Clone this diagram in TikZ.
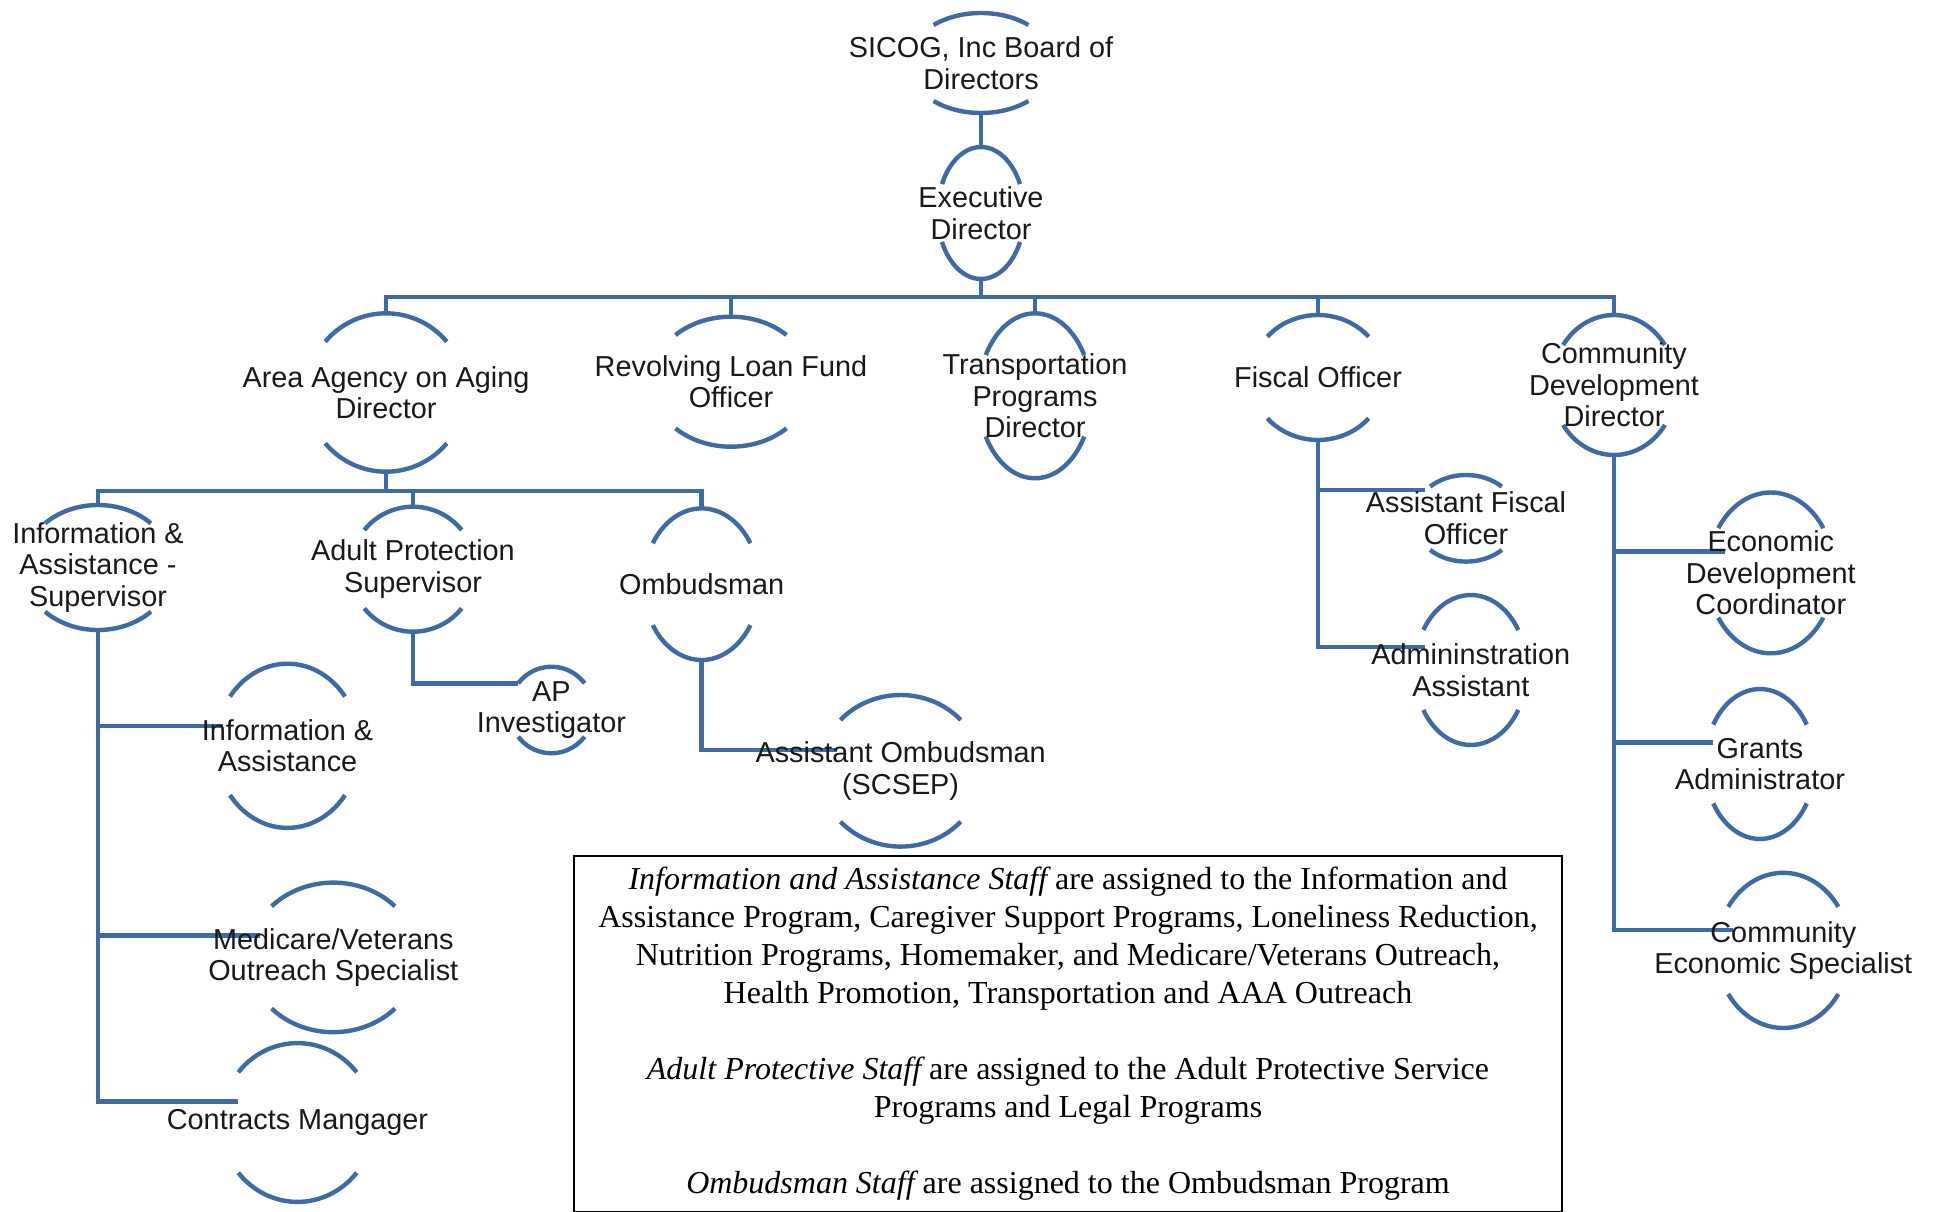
\documentclass[tikz,border=0pt]{standalone}
\usepackage{fontspec}
\setmainfont{Liberation Serif}
\newfontfamily\chartfont{Liberation Sans}
\usepackage{tikz}
\usetikzlibrary{calc, backgrounds}
\definecolor{orgblue}{RGB}{62,106,165}

% two arcs of an oval round a title: name, x radius, y radius, angle
\newcommand{\ovals}[4]{%
\draw[orgline] ([shift={(#4:#2 and #3)}]#1.center) arc[start angle=#4, end angle=180-#4, x radius=#2, y radius=#3];
\draw[orgline] ([shift={(180+#4:#2 and #3)}]#1.center) arc[start angle=180+#4, end angle=360-#4, x radius=#2, y radius=#3];
\coordinate (#1-t) at ([shift={(0,-#3)}]#1.center);
\coordinate (#1-b) at ([shift={(0,#3)}]#1.center);
}

\begin{document}
\begin{tikzpicture}[x=0.01cm,y=-0.01cm,
role/.style={font={\chartfont\fontsize{8.2}{8.96}\selectfont}, align=center, text=black!90, inner sep=0pt},
orgline/.style={draw=orgblue, line width=1.25pt},
notebox/.style={draw=black, line width=0.6pt, minimum width=9.88cm, minimum height=3.54cm, align=center, font={\fontsize{9.1}{10.8}\selectfont}}]
\useasboundingbox (0,0) rectangle (1938,1212);
% titles
\node[role] (sicog) at (981,63) {SICOG, Inc Board of\\Directors};
\node[role] (exec) at (981,213) {Executive\\Director};
\node[role] (aaa) at (386,392.5) {Area Agency on Aging\\Director};
\node[role] (rlf) at (731,381.7) {Revolving Loan Fund\\Officer};
\node[role] (tpd) at (1035,395.8) {Transportation\\Programs\\Director};
\node[role] (fo) at (1318,377.5) {Fiscal Officer};
\node[role] (cdd) at (1614,385) {Community\\Development\\Director};
\node[role] (ias) at (98,567.5) {Information \&\\Assistance -\\Supervisor};
\node[role] (aps) at (413,569.2) {Adult Protection\\Supervisor};
\node[role] (omb) at (701.6,584.2) {Ombudsman};
\node[role] (ia) at (287.5,745.8) {Information \&\\Assistance};
\node[role] (mvo) at (333.3,957.4) {Medicare/Veterans\\Outreach Specialist};
\node[role] (cm) at (297.5,1122.5) {Contracts Mangager};
\node[role] (apinv) at (551.4,710) {AP\\Investigator};
\node[role] (aomb) at (900.6,770.8) {Assistant Ombudsman\\(SCSEP)};
\node[role] (afo) at (1466,518.3) {Assistant Fiscal\\Officer};
\node[role] (aa) at (1470.8,670) {Admininstration\\Assistant};
\node[role] (edc) at (1770.8,572.9) {Economic\\Development\\Coordinator};
\node[role] (ga) at (1760,764) {Grants\\Administrator};
\node[role] (ces) at (1783.3,950.4) {Community\\Economic Specialist};
% note
\node[notebox] (note) at (1068,1034) {{\itshape Information and Assistance Staff} are assigned to the Information and\\
Assistance Program, Caregiver Support Programs, Loneliness Reduction,\\
Nutrition Programs, Homemaker, and Medicare/Veterans Outreach,\\
Health Promotion, Transportation and AAA Outreach\\[10.8pt]
{\itshape Adult Protective Staff} are assigned to the Adult Protective Service\\
Programs and Legal Programs\\[10.8pt]
{\itshape Ombudsman Staff} are assigned to the Ombudsman Program};
\begin{pgfonlayer}{background}
\ovals{sicog}{73}{50}{49.5}
\ovals{exec}{43.4}{66}{26}
\ovals{aaa}{79.2}{79.2}{39.9}
\ovals{rlf}{79.8}{65}{45.9}
\ovals{tpd}{56.6}{82.5}{29.6}
\ovals{fo}{67}{62.5}{40.8}
\ovals{cdd}{62}{70}{34.8}
\ovals{ias}{74.8}{62.5}{45}
\ovals{aps}{62.5}{62.5}{38.8}
\ovals{omb}{58}{75.8}{32.7}
\ovals{ia}{71.9}{82.1}{36.9}
\ovals{mvo}{84.5}{74.8}{43.1}
\ovals{cm}{76.4}{79.4}{39.2}
\ovals{apinv}{42.2}{43.3}{38.1}
\ovals{aomb}{81.1}{75.8}{42.1}
\ovals{afo}{52.6}{43.3}{47}
\ovals{aa}{56.1}{75}{32.2}
\ovals{edc}{63.2}{80.4}{33.8}
\ovals{ga}{54.9}{75}{31.7}
\ovals{ces}{66.5}{77.6}{34.2}
% branch points
\coordinate (bus) at (981,297);
\coordinate (bus2) at (386,491);
\coordinate (ia-w) at (223,726);
\coordinate (mvo-w) at (260,935.5);
\coordinate (cm-w) at (238,1101.5);
\coordinate (apinv-w) at (518.2,683.3);
\coordinate (aomb-w) at (836.5,750);
\coordinate (afo-w) at (1425,490);
\coordinate (aa-w) at (1425,647);
\coordinate (edc-w) at (1725,551.4);
\coordinate (ga-w) at (1713,742.5);
\coordinate (ces-w) at (1733,930);
% connectors
\draw[orgline] (sicog-b) -- (exec-t);
\foreach \n in {aaa,rlf,tpd,fo,cdd} \draw[orgline] (exec-b) -- (bus) -| (\n-t);
\foreach \n in {ias,aps,omb} \draw[orgline] (aaa-b) -- (bus2) -| (\n-t);
\foreach \n in {ia,mvo,cm} \draw[orgline] (ias-b) |- (\n-w);
\draw[orgline] (aps-b) |- (apinv-w);
\draw[orgline] (omb-b) |- (aomb-w);
\foreach \n in {afo,aa} \draw[orgline] (fo-b) |- (\n-w);
\foreach \n in {edc,ga,ces} \draw[orgline] (cdd-b) |- (\n-w);
\end{pgfonlayer}
\end{tikzpicture}
\end{document}
